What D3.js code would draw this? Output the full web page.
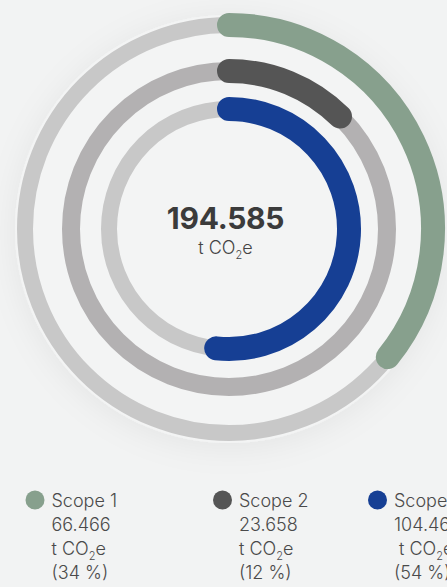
<!DOCTYPE html>
<html><head><meta charset="utf-8">
<script src="https://cdn.jsdelivr.net/npm/d3@7/dist/d3.min.js"></script>
<style>
html,body{margin:0;padding:0;background:#f2f3f3;overflow:hidden}
svg{display:block}
text{font-family:Inter,"Noto Sans",sans-serif}
</style></head><body>
<svg id="chart" width="447" height="587"></svg>
<script>
// ---- data ----
const scopes = ["Scope 1", "Scope 2", "Scope 3"];
const emissions = [66466, 23658, 104461];          // t CO2e
const shares = [34, 12, 54];                       // % as labelled
const arcSweepPct = [35.8, 12.4, 51.7];            // arc length as drawn (% of full circle)
const colors = ["#87a08d", "#555555", "#163f94"];
const trackColors = ["#c8c8c8", "#b3b1b2", "#c8c8c8"];
const total = 194585;
const unitLabel = "t CO";

// ---- layout ----
const svg = d3.select("#chart");
const cx = 229, cy = 229;
const radii = [204, 158, 120];
const trackW = [16, 18, 16];
const arcW = 24;

const de = d3.formatLocale({decimal: ",", thousands: ".", grouping: [3], currency: ["", "€"]});
const fmt = de.format(",");

const defs = svg.append("defs");
const f = defs.append("filter").attr("id", "halo").attr("x", "-30%").attr("y", "-30%").attr("width", "160%").attr("height", "160%");
f.append("feDropShadow").attr("dx", 0).attr("dy", 4).attr("stdDeviation", 16)
  .attr("flood-color", "#000").attr("flood-opacity", 0.06);

svg.append("circle").attr("cx", cx).attr("cy", cy).attr("r", 214)
  .attr("fill", "#f3f4f4").attr("filter", "url(#halo)");

const angle = d3.scaleLinear().domain([0, 100]).range([0, 2 * Math.PI]);

const g = svg.append("g").attr("transform", `translate(${cx},${cy})`);

function arcPath(r, a0, a1) {
  const p = d3.path();
  p.arc(0, 0, r, a0 - Math.PI / 2, a1 - Math.PI / 2, false);
  return p.toString();
}

// tracks
g.selectAll("circle.track").data(radii).join("circle")
  .attr("class", "track").attr("r", d => d).attr("fill", "none")
  .attr("stroke", (d, i) => trackColors[i]).attr("stroke-width", (d, i) => trackW[i]);

// value arcs
g.selectAll("path.val").data(arcSweepPct).join("path")
  .attr("class", "val")
  .attr("d", (d, i) => arcPath(radii[i], angle(0), angle(d)))
  .attr("fill", "none").attr("stroke", (d, i) => colors[i])
  .attr("stroke-width", arcW).attr("stroke-linecap", "round");

// centre label
svg.append("text").attr("x", 225.5).attr("y", 229).attr("text-anchor", "middle")
  .attr("font-size", 30).attr("font-weight", 700).attr("fill", "#3b3b3b")
  .attr("letter-spacing", -0.3)
  .text(fmt(total));
const ct = svg.append("text").attr("x", 225.5).attr("y", 254).attr("text-anchor", "middle")
  .attr("font-size", 18).attr("font-weight", 300).attr("fill", "#444");
ct.append("tspan").text(unitLabel);
ct.append("tspan").attr("font-size", 11).attr("dy", 5).text("2");
ct.append("tspan").attr("dy", -5).text("e");

// legend
const legX = [35, 222.5, 377.5];
const lg = svg.selectAll("g.leg").data(scopes).join("g").attr("class", "leg")
  .attr("transform", (d, i) => `translate(${legX[i]},500)`);
lg.append("circle").attr("r", 9.5).attr("fill", (d, i) => colors[i]);
const tx = 16.5;
lg.append("text").attr("x", tx).attr("y", 7).attr("font-size", 18).attr("font-weight", 300)
  .attr("fill", "#4a4a4a").text(d => d);
lg.append("text").attr("x", tx).attr("y", 31).attr("font-size", 18).attr("font-weight", 300)
  .attr("fill", "#4a4a4a").text((d, i) => fmt(emissions[i]));
const ut = lg.append("text").attr("x", (d, i) => i === 2 ? tx + 5 : tx).attr("y", 55)
  .attr("font-size", 18).attr("font-weight", 300).attr("fill", "#4a4a4a");
ut.append("tspan").text(unitLabel);
ut.append("tspan").attr("font-size", 11).attr("dy", 5).text("2");
ut.append("tspan").attr("dy", -5).text("e");
lg.append("text").attr("x", tx).attr("y", 79).attr("font-size", 18).attr("font-weight", 300)
  .attr("fill", "#4a4a4a").text((d, i) => `(${shares[i]} %)`);
</script>
</body></html>
